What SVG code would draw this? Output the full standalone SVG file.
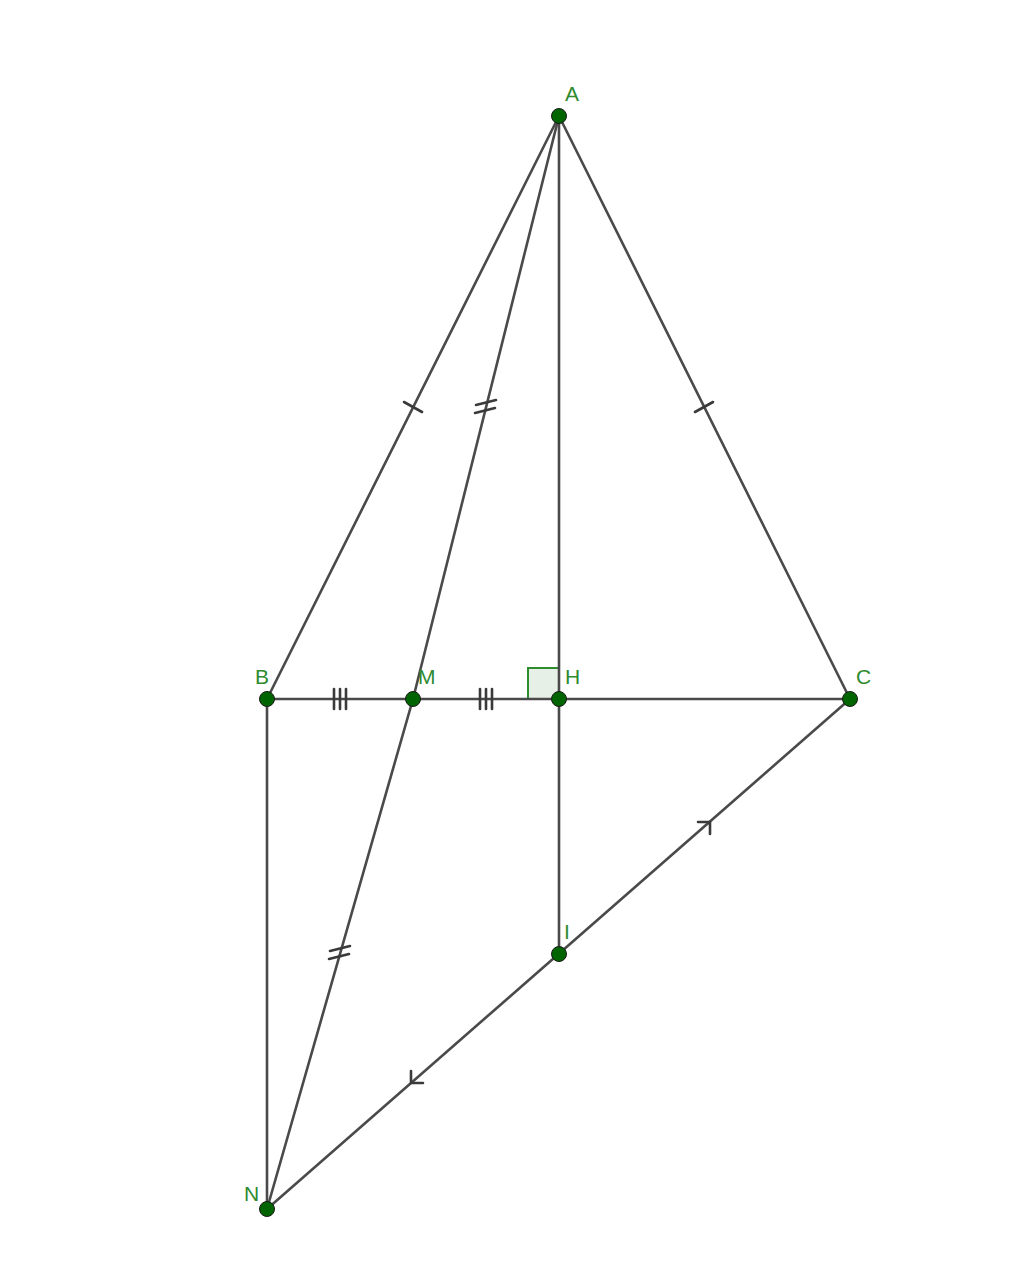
<svg xmlns="http://www.w3.org/2000/svg" width="1024" height="1269" viewBox="0 0 1024 1269">
<style>
.seg{stroke:#4a4a4a;stroke-width:2.6;fill:none;stroke-linecap:round}
.tk{stroke:#3a3a3a;stroke-width:2.6;fill:none;stroke-linecap:round;stroke-linejoin:round}
.pt{fill:#006400;stroke:#1a1a1a;stroke-width:1}
.lb{font-family:"Liberation Sans",Arial,sans-serif;font-size:21px;fill:#2e8b2e}
</style>
<rect width="1024" height="1269" fill="#ffffff"/>
<g id="right-angle">
<rect x="528" y="668" width="31" height="31" fill="#e6f0e6" stroke="#2e8b2e" stroke-width="2"/>
</g>
<g id="connectors">
<line class="seg" x1="559" y1="116" x2="267" y2="699"/>
<line class="seg" x1="559" y1="116" x2="850" y2="699"/>
<line class="seg" x1="559" y1="116" x2="413" y2="699"/>
<line class="seg" x1="413" y1="699" x2="267" y2="1209"/>
<line class="seg" x1="559" y1="116" x2="559" y2="954"/>
<line class="seg" x1="267" y1="699" x2="850" y2="699"/>
<line class="seg" x1="267" y1="699" x2="267" y2="1209"/>
<line class="seg" x1="850" y1="699" x2="267" y2="1209"/>
</g>
<g id="ticks">
<line class="tk" x1="404" y1="402" x2="422" y2="412"/>
<line class="tk" x1="695" y1="412" x2="713" y2="402"/>
<line class="tk" x1="476" y1="405" x2="496" y2="400"/>
<line class="tk" x1="475" y1="413" x2="495" y2="408"/>
<line class="tk" x1="330" y1="951" x2="350" y2="946"/>
<line class="tk" x1="329" y1="959" x2="349" y2="954"/>
<line class="tk" x1="334" y1="689" x2="334" y2="709"/>
<line class="tk" x1="340" y1="689" x2="340" y2="709"/>
<line class="tk" x1="346" y1="689" x2="346" y2="709"/>
<line class="tk" x1="480" y1="689" x2="480" y2="709"/>
<line class="tk" x1="486" y1="689" x2="486" y2="709"/>
<line class="tk" x1="492" y1="689" x2="492" y2="709"/>
<polyline class="tk" points="698,822 710,822 710,834"/>
<polyline class="tk" points="411,1071 411,1083 423,1083"/>
</g>
<g id="node-A"><circle class="pt" cx="559" cy="116" r="7.5"/><text class="lb" x="565" y="101">A</text></g>
<g id="node-B"><circle class="pt" cx="267" cy="699" r="7.5"/><text class="lb" x="255" y="684">B</text></g>
<g id="node-M"><circle class="pt" cx="413" cy="699" r="7.5"/><text class="lb" x="418" y="684">M</text></g>
<g id="node-H"><circle class="pt" cx="559" cy="699" r="7.5"/><text class="lb" x="565" y="684">H</text></g>
<g id="node-C"><circle class="pt" cx="850" cy="699" r="7.5"/><text class="lb" x="856" y="684">C</text></g>
<g id="node-I"><circle class="pt" cx="559" cy="954" r="7.5"/><text class="lb" x="564" y="939">I</text></g>
<g id="node-N"><circle class="pt" cx="267" cy="1209" r="7.5"/><text class="lb" x="244" y="1201">N</text></g>
</svg>
